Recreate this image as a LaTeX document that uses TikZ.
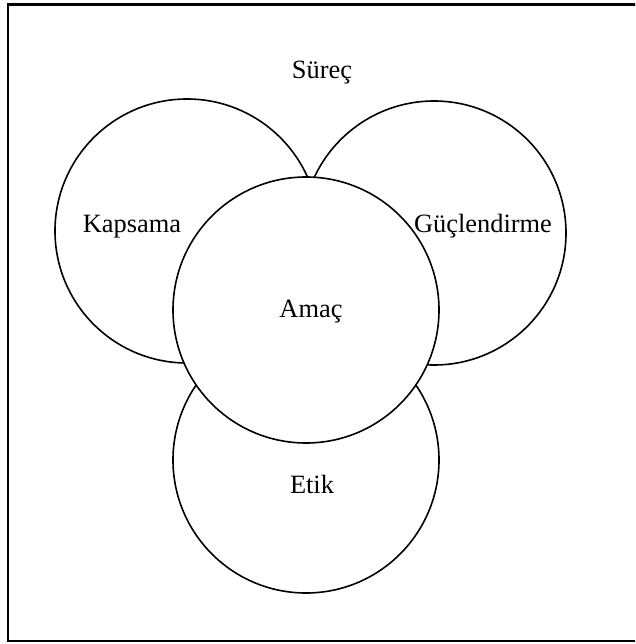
\documentclass[tikz,border=0pt]{standalone}
\usepackage{fontspec}
\setmainfont{Liberation Serif}
\begin{document}
\begin{tikzpicture}[x=1pt,y=-1pt,
  ring/.style={circle,draw=black,line width=1.6pt,inner sep=0pt,minimum size=#1},
  lbl/.style={anchor=base,inner sep=0pt,font=\fontsize{26.4}{30}\selectfont}]
\useasboundingbox (0,0) rectangle (635,644);
\begin{scope}
\clip (0,0) rectangle (635,644);
\draw[line width=2.2pt] (8,4.5) rectangle (640,641);
\end{scope}
\node[ring=264pt] (kap) at (187,231) {};
\node[ring=264pt] (guc) at (434,233) {};
\node[ring=266pt,fill=white] (etik) at (306,460) {};
\node[ring=266pt,fill=white] (amac) at (306,310) {};
\node[lbl] (tsurec) at (322,79) {Süreç};
\node[lbl] (tkap) at (132,232) {Kapsama};
\node[lbl] (tguc) at (483,233) {Güçlendirme};
\node[lbl] (tamac) at (311,317) {Amaç};
\node[lbl] (tetik) at (312,493) {Etik};
\end{tikzpicture}
\end{document}
